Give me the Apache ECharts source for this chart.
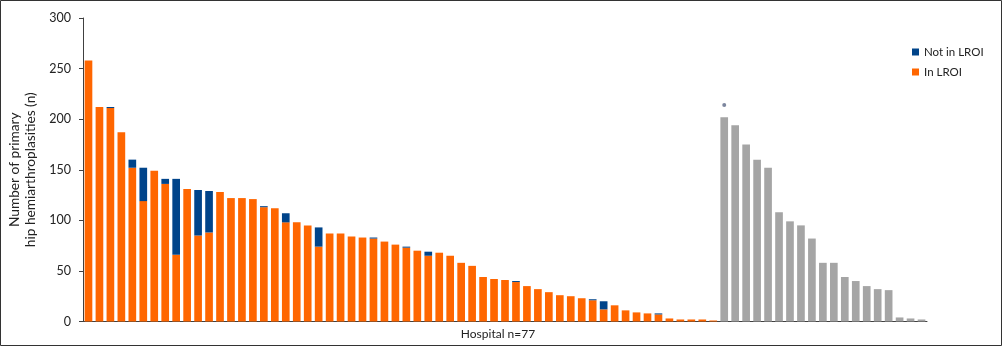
<!DOCTYPE html>
<html>
<head>
<meta charset="utf-8">
<script src="https://cdn.jsdelivr.net/npm/echarts@6/dist/echarts.min.js"></script>
<style>
html,body{margin:0;padding:0;background:#fff;}
#chart{width:1002px;height:347px;}
</style>
</head>
<body>
<div id="chart"></div>
<script>
// Hospitals (77), sorted
const categories = Array.from({length: 77}, (_, i) => 'H' + (i + 1));

// In LROI (orange), hospitals 1-58
const inLROI = [258, 212, 211, 187, 152, 119, 149, 136, 66, 131, 85, 88, 128, 122, 122, 121, 113, 112, 98, 98,
  95, 74, 87, 87, 84, 83, 82, 79, 76, 73, 70, 65, 68, 65, 58, 55, 44, 42, 41, 39,
  35, 32, 29, 26, 25, 23, 21, 12, 16, 11, 9, 8, 7, 3, 2, 2, 2, 1];
// Not in LROI (blue), hospitals 1-58
const notInLROI = [0, 0, 1, 0, 8, 33, 0, 5, 75, 0, 45, 41, 0, 0, 0, 0, 1, 0, 9, 0,
  0, 19, 0, 0, 0, 0, 1, 0, 0, 1, 0, 4, 0, 0, 0, 0, 0, 0, 0, 1,
  0, 0, 0, 0, 0, 0, 1, 8, 0, 0, 0, 0, 1, 0, 0, 0, 0, 0];
// Hospitals 59-77 (grey)
const otherHospitals = [202, 194, 175, 160, 152, 108, 99, 95, 82, 58, 58, 44, 40, 35, 32, 31, 4, 3, 2];
// small marker above hospital 59
const markerIndex = 58;
const markerValue = 214;

const yTicks = {min: 0, max: 300, interval: 50};

const orangeData = categories.map((c, i) => i < inLROI.length ? inLROI[i] : '-');
const blueData = categories.map((c, i) => i < notInLROI.length ? (notInLROI[i] || '-') : '-');
const greyData = categories.map((c, i) => i >= inLROI.length ? otherHospitals[i - inLROI.length] : '-');
const markerData = categories.map((c, i) => i === markerIndex ? markerValue : '-');

const font = 'Lato, "Open Sans", sans-serif';
const chart = echarts.init(document.getElementById('chart'), null, {renderer: 'canvas'});
chart.setOption({
  animation: false,
  backgroundColor: '#fff',
  textStyle: {fontFamily: font},
  grid: {left: 83, right: 75, top: 18, bottom: 25.5, containLabel: false, outerBoundsMode: 'none'},
  legend: {
    orient: 'vertical',
    left: 912, top: 46,
    padding: 0,
    itemWidth: 7, itemHeight: 7, itemGap: 8,
    icon: 'rect',
    data: ['Not in LROI', 'In LROI'],
    textStyle: {fontFamily: font, fontSize: 11.5, color: '#222'}
  },
  xAxis: {
    type: 'category',
    data: categories,
    name: 'Hospital n=77',
    nameLocation: 'middle',
    nameGap: 7,
    nameTextStyle: {fontFamily: font, fontSize: 12, color: '#222', padding: [0, 14, 0, 0]},
    axisLine: {lineStyle: {color: '#404040', width: 1}},
    axisTick: {show: false},
    axisLabel: {show: false},
    splitLine: {show: false}
  },
  yAxis: {
    type: 'value',
    min: yTicks.min, max: yTicks.max, interval: yTicks.interval,
    name: 'Number of primary\nhip hemiarthroplasities (n)',
    nameLocation: 'middle',
    nameGap: 44,
    nameRotate: 90,
    nameTextStyle: {fontFamily: font, fontSize: 13.7, color: '#222', lineHeight: 15.7, align: 'center'},
    axisLine: {show: true, lineStyle: {color: '#404040', width: 1}},
    axisTick: {show: true, length: 4, lineStyle: {color: '#404040'}},
    axisLabel: {fontFamily: font, fontSize: 12.5, color: '#222', margin: 12},
    splitLine: {show: false}
  },
  series: [
    {name: 'In LROI', type: 'bar', stack: 'total', data: orangeData, barWidth: '70%',
      itemStyle: {color: '#FF6600'}},
    {name: 'Not in LROI', type: 'bar', stack: 'total', data: blueData, barWidth: '70%',
      itemStyle: {color: '#00448A'}},
    {name: 'Other', type: 'bar', stack: 'total', data: greyData, barWidth: '70%',
      itemStyle: {color: '#A5A5A5'}},
    {name: 'marker', type: 'scatter', data: markerData, symbol: 'circle', symbolSize: 4,
      itemStyle: {color: '#5b6886'}}
  ],
  graphic: [{
    type: 'rect', silent: true,
    shape: {x: 0.5, y: 0.5, width: 1001, height: 345},
    style: {fill: 'none', stroke: '#333', lineWidth: 1}
  }]
});
</script>
</body>
</html>
